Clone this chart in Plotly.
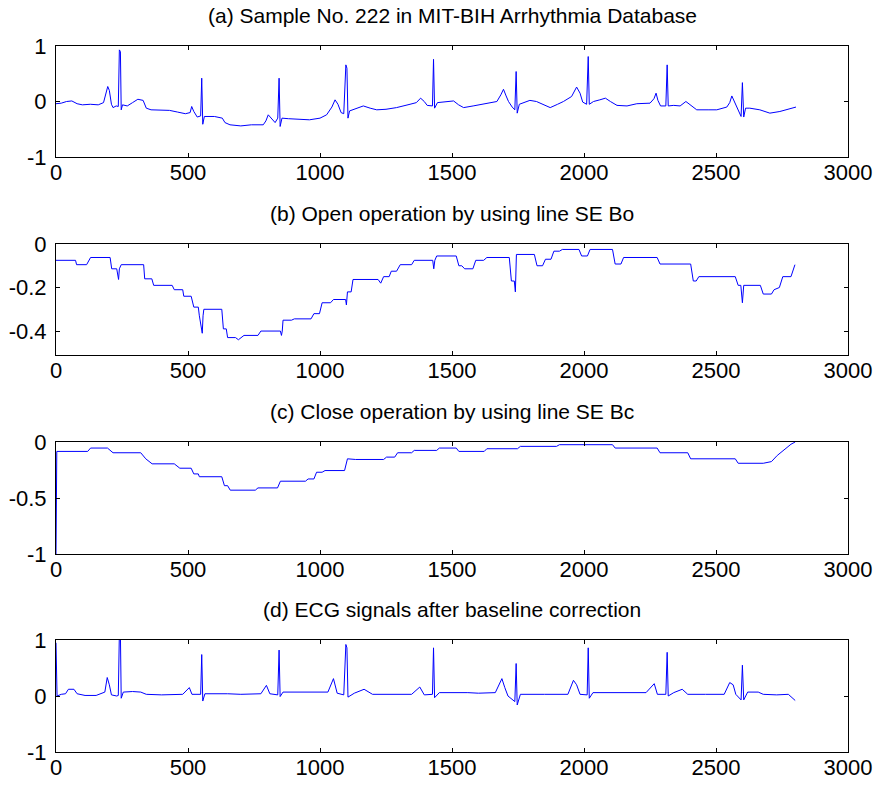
import plotly.graph_objects as go

# ---------------- data ----------------
TITLES = [
    "(a) Sample No. 222 in MIT-BIH Arrhythmia Database",
    "(b) Open operation by using line SE Bo",
    "(c) Close operation by using line SE Bc",
    "(d) ECG signals after baseline correction",
]

X_TICKS = [0, 500, 1000, 1500, 2000, 2500, 3000]
X_TICK_TEXT = ["0", "500", "1000", "1500", "2000", "2500", "3000"]

# (a) raw ECG
a_x = [0, 20, 40, 60, 80, 100, 130, 160, 180, 190, 196, 202, 210, 216, 228, 236, 240, 244, 247, 252,
       270, 290, 310, 330, 342, 360, 400, 430, 460, 490, 508, 514, 522, 535, 548, 552, 556, 562, 600,
       630, 640, 659, 700, 740, 785, 795, 804, 815, 830, 840, 845, 849, 856, 880, 920, 960, 1000, 1025,
       1045, 1057, 1068, 1080, 1090, 1098, 1102, 1106, 1112, 1140, 1164, 1190, 1215, 1250, 1290, 1341,
       1365, 1381, 1395, 1406, 1426, 1430, 1434, 1445, 1480, 1506, 1525, 1544, 1580, 1620, 1670, 1685,
       1695, 1705, 1714, 1728, 1738, 1743, 1747, 1755, 1795, 1820, 1846, 1872, 1900, 1922, 1953, 1972,
       1985, 1995, 2010, 2016, 2020, 2036, 2060, 2081, 2100, 2125, 2163, 2200, 2250, 2265, 2273, 2280,
       2290, 2310, 2315, 2319, 2340, 2364, 2386, 2400, 2427, 2470, 2503, 2541, 2552, 2560, 2570, 2579,
       2595, 2600, 2605, 2612, 2628, 2666, 2690, 2704, 2742, 2770, 2803]
a_y = [-0.04, -0.03, 0.0, 0.01, -0.04, -0.06, -0.05, -0.06, -0.02, 0.15, 0.27, 0.2, -0.05, -0.11,
       -0.08, -0.09, 0.93, 0.9, -0.15, -0.06, -0.08, -0.02, 0.04, 0.02, -0.12, -0.15, -0.16, -0.16,
       -0.19, -0.22, -0.2, -0.09, -0.18, -0.28, -0.26, 0.42, -0.41, -0.27, -0.27, -0.3, -0.38, -0.42,
       -0.44, -0.42, -0.42, -0.35, -0.24, -0.3, -0.38, -0.3, 0.42, -0.45, -0.3, -0.31, -0.32, -0.33,
       -0.3, -0.24, -0.1, 0.03, -0.05, -0.2, -0.22, 0.66, 0.6, -0.3, -0.17, -0.12, -0.08, -0.12, -0.15,
       -0.14, -0.11, -0.05, -0.02, 0.06, 0.0, -0.07, -0.08, 0.76, -0.12, -0.02, 0.0, 0.01, -0.06, -0.11,
       -0.08, -0.04, 0.0, 0.12, 0.22, 0.1, 0.0, -0.1, -0.15, 0.54, -0.21, -0.05, 0.02, 0.0, -0.05, -0.11,
       -0.05, 0.0, 0.09, 0.26, 0.15, -0.01, -0.05, 0.81, -0.05, 0.0, 0.03, 0.06, 0.0, -0.07, -0.08,
       -0.04, -0.03, 0.05, 0.15, 0.02, -0.08, -0.08, 0.66, -0.08, -0.07, -0.08, 0.0, -0.05, -0.15,
       -0.15, -0.15, -0.1, -0.02, 0.1, 0.0, -0.12, -0.27, 0.34, -0.28, -0.12, -0.12, -0.15, -0.19,
       -0.21, -0.18, -0.14, -0.1]

# (b) opening with line SE Bo
b_x = [0, 74, 78, 116, 131, 205, 211, 230, 237, 240, 247, 332, 336, 363, 370, 440, 448, 480, 484,
       512, 522, 539, 543, 554, 557, 560, 628, 634, 645, 650, 680, 691, 712, 765, 776, 850, 854, 857,
       860, 892, 903, 966, 977, 998, 1008, 1040, 1051, 1097, 1100, 1104, 1118, 1125, 1220, 1230, 1241,
       1262, 1270, 1290, 1304, 1347, 1357, 1427, 1431, 1435, 1442, 1516, 1526, 1537, 1548, 1579, 1590,
       1620, 1632, 1717, 1725, 1736, 1740, 1744, 1812, 1822, 1843, 1854, 1875, 1886, 1907, 1918, 1981,
       1991, 2013, 2023, 2108, 2118, 2140, 2150, 2277, 2288, 2404, 2414, 2425, 2435, 2573, 2584, 2594,
       2600, 2605, 2668, 2679, 2710, 2720, 2740, 2753, 2784, 2799]
b_y = [-0.075, -0.075, -0.095, -0.095, -0.062, -0.062, -0.114, -0.114, -0.163, -0.114, -0.095,
       -0.095, -0.16, -0.16, -0.19, -0.19, -0.21, -0.21, -0.24, -0.24, -0.29, -0.29, -0.33, -0.41,
       -0.33, -0.3, -0.3, -0.39, -0.39, -0.43, -0.43, -0.44, -0.42, -0.42, -0.4, -0.4, -0.42, -0.4,
       -0.35, -0.35, -0.344, -0.344, -0.32, -0.32, -0.27, -0.27, -0.255, -0.255, -0.28, -0.22, -0.22,
       -0.163, -0.163, -0.18, -0.15, -0.15, -0.125, -0.125, -0.095, -0.095, -0.075, -0.075, -0.114,
       -0.075, -0.055, -0.055, -0.1, -0.1, -0.114, -0.114, -0.075, -0.075, -0.062, -0.062, -0.17,
       -0.17, -0.22, -0.048, -0.048, -0.1, -0.1, -0.07, -0.07, -0.033, -0.033, -0.025, -0.025, -0.055,
       -0.055, -0.025, -0.025, -0.092, -0.092, -0.062, -0.062, -0.092, -0.092, -0.17, -0.17, -0.15,
       -0.15, -0.19, -0.19, -0.27, -0.19, -0.19, -0.23, -0.23, -0.21, -0.2, -0.15, -0.15, -0.095]

# (c) closing with line SE Bc
c_x = [0, 3, 120, 131, 195, 216, 321, 340, 364, 448, 469, 512, 522, 539, 543, 628, 638, 650, 660,
       755, 765, 839, 850, 945, 955, 977, 987, 1008, 1019, 1093, 1104, 1135, 1241, 1252, 1283, 1294,
       1347, 1357, 1442, 1452, 1516, 1526, 1622, 1632, 1748, 1759, 1896, 1907, 2108, 2118, 2277,
       2288, 2393, 2404, 2573, 2584, 2679, 2710, 2732, 2763, 2784, 2800]
c_y = [-1.0, -0.084, -0.084, -0.054, -0.054, -0.096, -0.096, -0.15, -0.195, -0.195, -0.234, -0.234,
       -0.285, -0.285, -0.31, -0.31, -0.39, -0.39, -0.43, -0.43, -0.41, -0.41, -0.35, -0.35, -0.33,
       -0.33, -0.27, -0.27, -0.255, -0.255, -0.15, -0.156, -0.156, -0.135, -0.135, -0.096, -0.096,
       -0.075, -0.075, -0.054, -0.054, -0.084, -0.084, -0.06, -0.06, -0.039, -0.039, -0.024, -0.024,
       -0.054, -0.054, -0.096, -0.096, -0.15, -0.15, -0.19, -0.19, -0.175, -0.12, -0.06, -0.02, 0.0]

# (d) after baseline correction
d_x = [0, 4, 20, 36, 47, 68, 80, 110, 152, 185, 194, 202, 210, 230, 236, 240, 244, 247, 255, 290,
       321, 342, 400, 480, 505, 515, 548, 552, 556, 564, 650, 700, 776, 797, 810, 840, 845, 849, 860,
       950, 1030, 1051, 1065, 1090, 1098, 1102, 1106, 1130, 1167, 1199, 1280, 1347, 1378, 1395, 1426,
       1430, 1434, 1452, 1560, 1600, 1664, 1689, 1700, 1712, 1738, 1743, 1747, 1759, 1850, 1939, 1960,
       1972, 1985, 2012, 2016, 2020, 2034, 2120, 2235, 2266, 2278, 2310, 2315, 2319, 2340, 2372, 2393,
       2460, 2531, 2552, 2565, 2575, 2595, 2600, 2605, 2620, 2660, 2679, 2730, 2774, 2790, 2800]
d_y = [0.95, 0.0, 0.03, 0.04, 0.12, 0.12, 0.04, 0.01, 0.01, 0.07, 0.33, 0.2, 0.02, 0.0, 0.01, 1.1,
       1.1, -0.04, 0.07, 0.08, 0.07, 0.03, 0.02, 0.03, 0.15, 0.03, 0.03, 0.74, -0.09, 0.04, 0.04, 0.03,
       0.04, 0.19, 0.04, 0.02, 0.82, -0.01, 0.07, 0.07, 0.07, 0.31, 0.05, 0.02, 0.92, 0.86, -0.02,
       0.05, 0.12, 0.03, 0.03, 0.03, 0.16, 0.02, 0.03, 0.86, -0.03, 0.06, 0.06, 0.05, 0.06, 0.31, 0.15,
       0.0, -0.1, 0.58, -0.16, 0.03, 0.03, 0.03, 0.28, 0.2, 0.03, 0.02, 0.86, -0.04, 0.06, 0.06, 0.06,
       0.22, 0.03, 0.03, 0.78, 0.0, 0.06, 0.12, 0.03, 0.03, 0.03, 0.24, 0.2, 0.03, -0.07, 0.55, -0.07,
       0.07, 0.07, 0.03, 0.02, 0.03, -0.03, -0.08]

Y_RANGES = [[-1, 1], [-0.51, 0], [-1, 0], [-1, 1]]
Y_TICKS = [[-1, 0, 1], [-0.4, -0.2, 0], [-1, -0.5, 0], [-1, 0, 1]]
Y_TICK_TEXT = [["-1", "0", "1"], ["-0.4", "-0.2", "0"], ["-1", "-0.5", "0"], ["-1", "0", "1"]]

SERIES = [(a_x, a_y), (b_x, b_y), (c_x, c_y), (d_x, d_y)]

# ---------------- layout ----------------
W, H = 876, 787
LEFT, RIGHT = 56, 848
TOPS = [46, 244, 442, 640]
BOTTOMS = [157, 355, 554, 752]
FONT = "Arial, Liberation Sans, Helvetica, sans-serif"

fig = go.Figure()
layout = dict(
    width=W, height=H,
    margin=dict(l=0, r=0, t=0, b=0),
    paper_bgcolor="white", plot_bgcolor="white",
    showlegend=False,
    font=dict(family=FONT, color="black"),
    annotations=[],
)

for i, (xs, ys) in enumerate(SERIES):
    n = "" if i == 0 else str(i + 1)
    fig.add_trace(go.Scatter(
        x=xs, y=ys, mode="lines",
        line=dict(color="#0000FF", width=1),
        xaxis="x" + n, yaxis="y" + n, hoverinfo="skip",
    ))
    y0 = 1 - BOTTOMS[i] / H
    y1 = 1 - TOPS[i] / H
    common = dict(
        showline=True, linecolor="black", linewidth=1, mirror="ticks",
        ticks="inside", ticklen=4, tickcolor="black", tickwidth=1,
        showgrid=False, zeroline=False,
        tickfont=dict(family=FONT, size=22, color="black"),
        automargin=False,
    )
    layout["xaxis" + n] = dict(
        common, domain=[LEFT / W, RIGHT / W], range=[0, 3000],
        tickvals=X_TICKS, ticktext=X_TICK_TEXT, anchor="y" + n,
        ticklabelstandoff=-4,
    )
    layout["yaxis" + n] = dict(
        common, domain=[y0, y1], range=Y_RANGES[i],
        tickvals=Y_TICKS[i], ticktext=Y_TICK_TEXT[i], anchor="x" + n,
        ticklabelstandoff=4,
    )
    layout["annotations"].append(dict(
        text=TITLES[i], xref="paper", yref="paper",
        x=(LEFT + RIGHT) / 2 / W, y=1 - (TOPS[i] - 31) / H,
        xanchor="center", yanchor="middle", showarrow=False,
        font=dict(family=FONT, size=21, color="black"),
    ))

fig.update_layout(**layout)
fig.write_html("out.html")
